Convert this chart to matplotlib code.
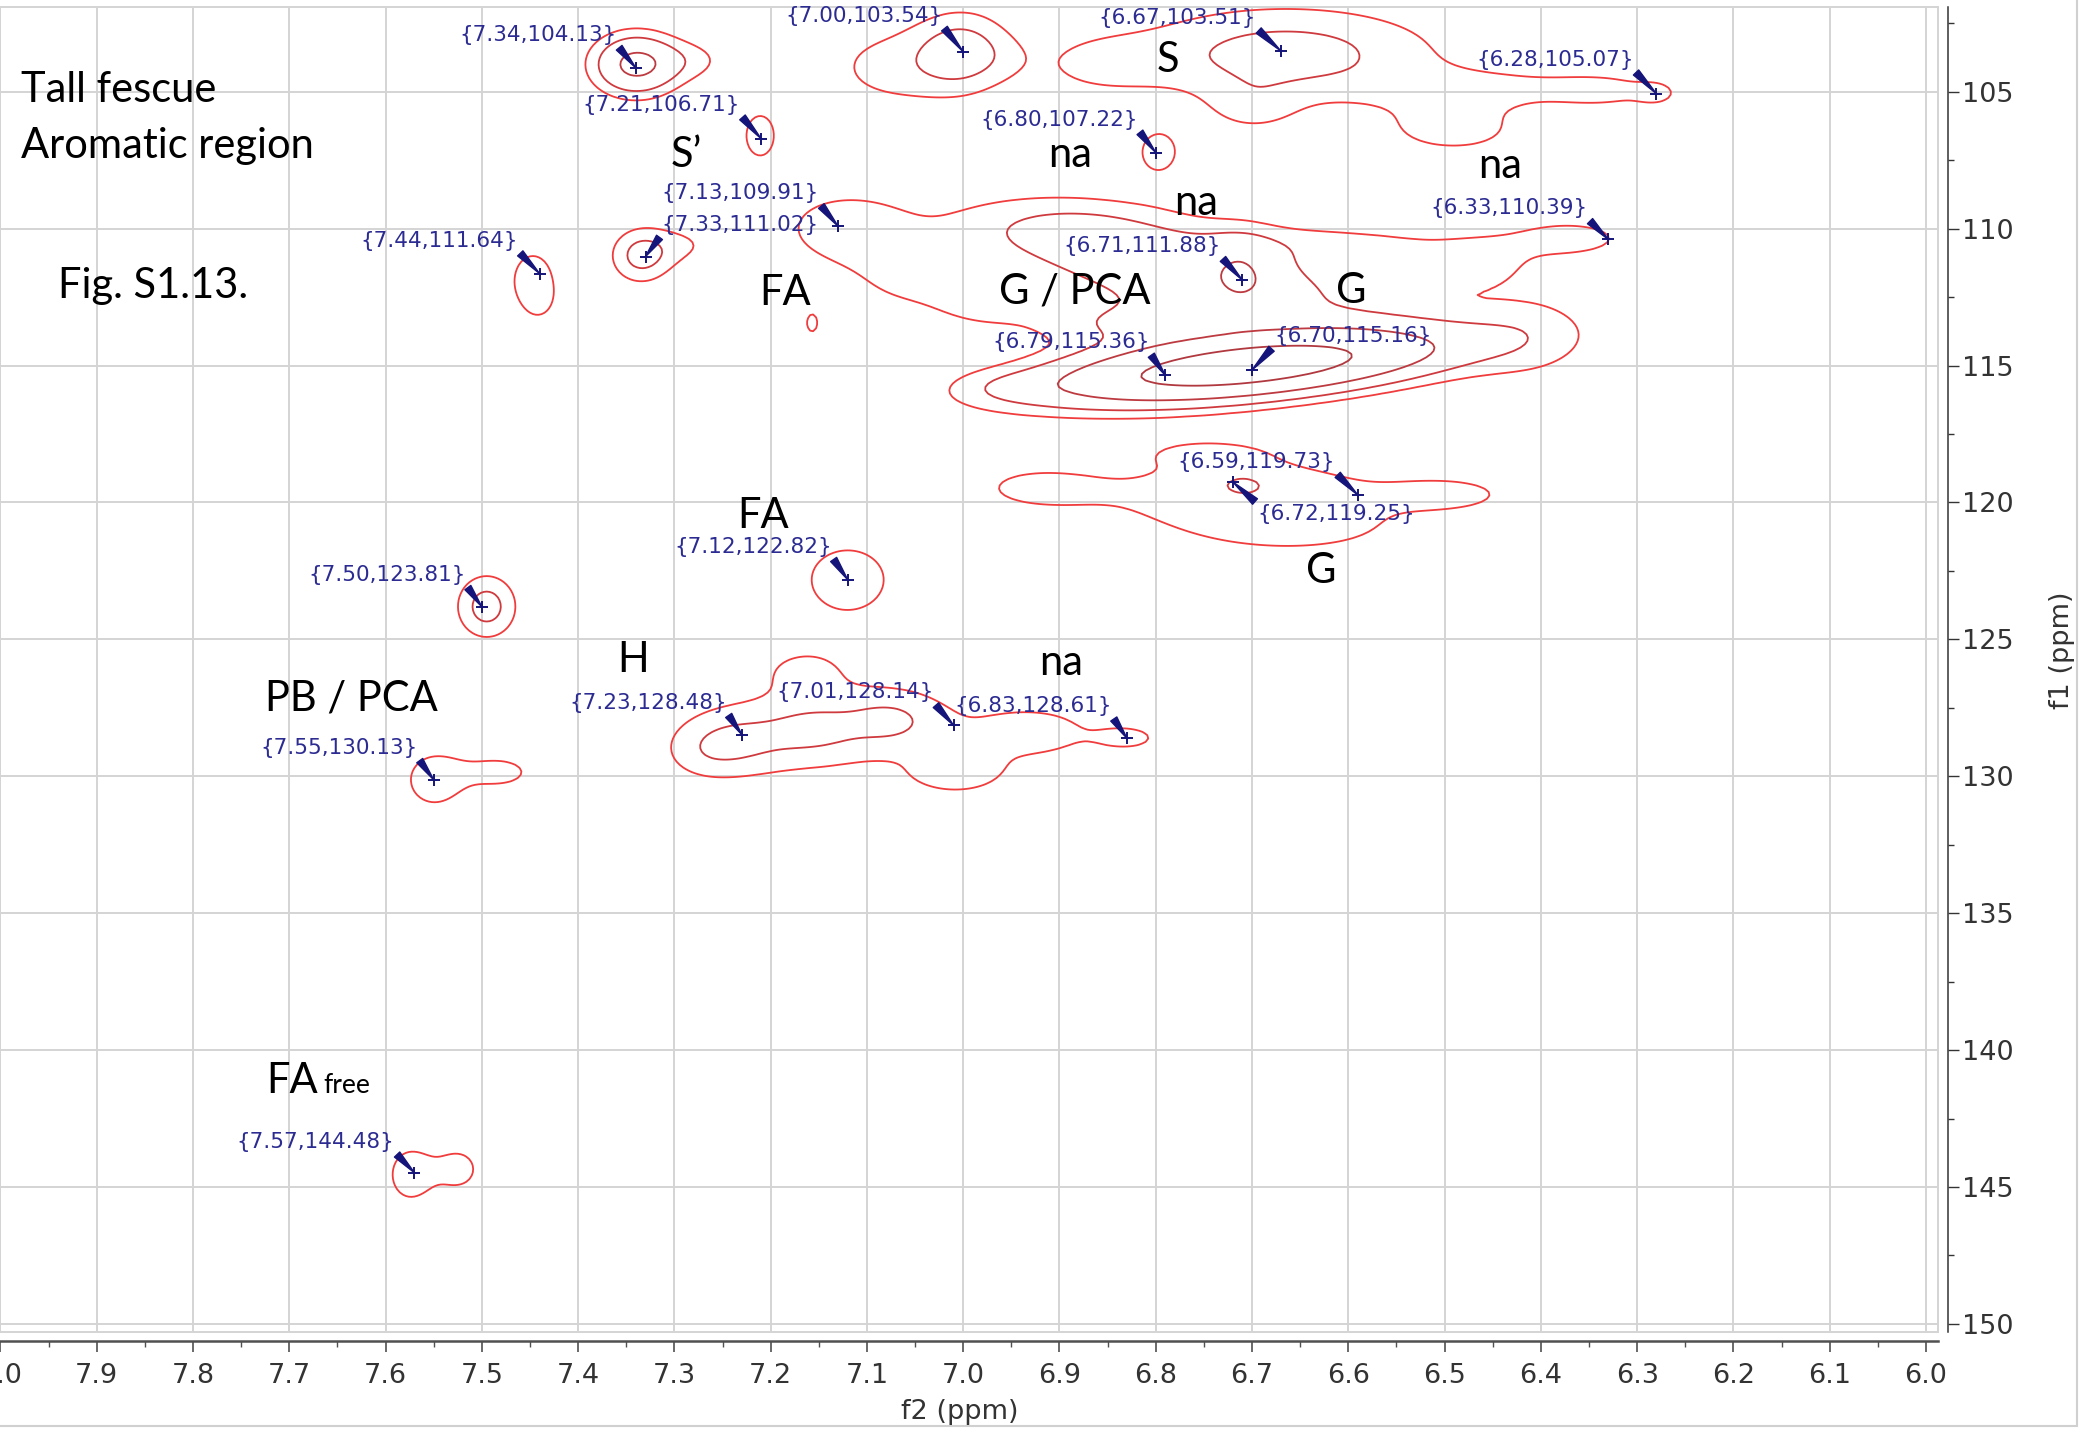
import numpy as np
import matplotlib
matplotlib.use("Agg")
import matplotlib.pyplot as plt
from matplotlib.patches import Rectangle

# ---------------- data ----------------
# picked peaks (f2 ppm, f1 ppm) as labelled in the spectrum
peak_f2 = [7.34, 7.00, 6.67, 6.28, 7.21, 6.80, 7.13, 7.33, 7.44, 6.33, 6.71,
           6.79, 6.70, 6.59, 6.72, 7.12, 7.50, 7.23, 7.01, 6.83, 7.55, 7.57]
peak_f1 = [104.13, 103.54, 103.51, 105.07, 106.71, 107.22, 109.91, 111.02,
           111.64, 110.39, 111.88, 115.36, 115.16, 119.73, 119.25, 122.82,
           123.81, 128.48, 128.14, 128.61, 130.13, 144.48]

# cross-peak components estimated from the contour outlines:
# (f2 centre, f1 centre, f2 width, f1 width, amplitude, tilt)
comp_f2 = [
    7.340, 7.280,                                          # 7.34/104
    7.000, 7.070, 6.955,                                   # 7.00/103.5
    6.665, 6.860, 6.420, 6.330, 6.280, 6.490, 6.700,       # S region
    7.211, 6.797, 7.447, 7.440, 7.335, 7.290, 7.157,       # small peaks
    7.575, 7.525,                                          # FA free
    7.495, 7.120, 7.550, 7.485,                            # 123.8, 122.8, 130.1
    7.235, 7.155, 7.075, 7.165, 7.270, 6.920, 6.825, 7.005, 7.130,  # H region
    6.700, 6.710, 6.930, 6.490, 6.650, 6.750,              # G 119
    6.710, 6.770, 6.710, 7.125, 6.890, 6.600, 6.370, 7.060, 6.410, 6.460,
    6.980, 6.960, 6.840, 6.520,                            # G/PCA cluster
]
comp_f1 = [
    104.00, 103.85,
    103.50, 104.10, 103.80,
    103.60, 104.00, 104.80, 105.00, 105.07, 106.40, 105.60,
    106.60, 107.20, 111.90, 112.60, 111.00, 110.60, 113.45,
    144.55, 144.35,
    123.80, 122.80, 130.15, 129.85,
    128.70, 128.30, 127.95, 126.10, 129.20, 128.40, 128.60, 129.90, 128.30,
    119.80, 119.30, 119.45, 119.70, 121.10, 118.10,
    115.05, 111.60, 111.65, 110.00, 109.90, 110.50, 110.35, 111.90, 113.80, 111.20,
    112.80, 115.80, 113.50, 111.60,
]
comp_w2 = [
    0.030, 0.028,
    0.034, 0.055, 0.020,
    0.110, 0.050, 0.100, 0.040, 0.015, 0.070, 0.035,
    0.0155, 0.018, 0.021, 0.010, 0.022, 0.030, 0.006,
    0.018, 0.022,
    0.022, 0.038, 0.022, 0.035,
    0.040, 0.035, 0.035, 0.035, 0.030, 0.060, 0.025, 0.035, 0.120,
    0.120, 0.020, 0.060, 0.050, 0.080, 0.060,
    0.131, 0.150, 0.025, 0.050, 0.070, 0.100, 0.050, 0.050, 0.050, 0.035,
    0.040, 0.040, 0.070, 0.050,
]
comp_w1 = [
    0.75, 0.55,
    1.00, 1.10, 0.60,
    1.20, 0.80, 0.60, 0.45, 0.30, 0.90, 0.70,
    0.78, 0.67, 1.00, 0.45, 0.70, 0.60, 0.35,
    0.80, 0.75,
    0.82, 1.08, 0.75, 0.55,
    0.80, 0.70, 0.70, 0.70, 0.70, 0.90, 0.35, 0.55, 1.90,
    1.15, 0.30, 0.75, 0.50, 0.70, 0.45,
    0.745, 1.30, 1.00, 1.00, 0.70, 0.50, 0.55, 1.00, 1.30, 0.60,
    0.70, 0.45, 0.60, 0.70,
]
comp_amp = [
    4.6, 1.0,
    2.3, 1.35, 0.25,
    2.5, 1.0, 0.9, 0.8, 0.9, 1.2, 1.0,
    1.5, 1.5, 1.5, 0.7, 2.3, 0.95, 1.4,
    1.6, 1.3,
    2.5, 1.6, 1.7, 1.3,
    1.5, 1.3, 1.4, 0.8, 0.7, 1.1, 1.0, 1.2, 0.95,
    1.6, 0.7, 1.0, 1.05, 0.7, 0.75,
    11.0, 3.0, 1.6, 1.4, 1.0, 0.9, 1.35, 1.0, 1.0, 1.0,
    0.9, 0.7, 1.5, 0.7,
]
comp_tilt = [0.0] * 40 + [3.2, -6.0] + [0.0] * 12

contour_levels = [1, 2, 4, 8]

assign_text = ["Tall fescue", "Aromatic region", "Fig. S1.13.", "S\u2019", "FA", "S",
               "na", "na", "na", "G / PCA", "G", "FA", "G", "H", "na", "PB / PCA", "FA"]
assign_f2 = [7.979, 7.979, 7.940, 7.304, 7.212, 6.799, 6.912, 6.781, 6.465, 6.963,
             6.613, 7.235, 6.644, 7.359, 6.921, 7.725, 7.724]
assign_f1 = [105.37, 107.42, 112.53, 107.75, 112.79, 104.28, 107.74, 109.50, 108.16,
             112.72, 112.72, 120.93, 122.95, 126.19, 126.30, 127.58, 141.58]

# label offsets in pixels (dx, dy, ha, va) -- layout only
label_layout = [(-19, 23, "right", "bottom"), (-21, 26, "right", "bottom"),
                (-25, 23, "right", "bottom"), (-23, 24, "right", "bottom"),
                (-21, 24, "right", "bottom"), (-18, 23, "right", "bottom"),
                (-19, 23, "right", "bottom"), (16, 22, "left", "bottom"),
                (-22, 23, "right", "bottom"), (-21, 21, "right", "bottom"),
                (-22, 24, "right", "bottom"), (-16, 23, "right", "bottom"),
                (22, 24, "left", "bottom"), (-23, 23, "right", "bottom"),
                (25, -22, "left", "top"), (-16, 23, "right", "bottom"),
                (-16, 22, "right", "bottom"), (-15, 22, "right", "bottom"),
                (-20, 23, "right", "bottom"), (-15, 22, "right", "bottom"),
                (-16, 22, "right", "bottom"), (-20, 21, "right", "bottom")]

# ---------------- figure ----------------
W, H = 2086, 1432
fig = plt.figure(figsize=(W / 100, H / 100), dpi=100)
fig.patch.set_facecolor("white")

XL = (8.0005, 5.9875)
YL = (150.296, 101.903)
ax_l, ax_r, ax_t, ax_b = 0, 1938, 7, 1332
ax = fig.add_axes([ax_l / W, 1 - ax_b / H, (ax_r - ax_l) / W, (ax_b - ax_t) / H])
ax.set_xlim(*XL)
ax.set_ylim(*YL)
ax.set_xticks(np.round(np.arange(6.0, 8.0001, 0.1), 1))
ax.set_yticks(np.arange(105, 151, 5))
ax.tick_params(length=0, labelbottom=False, labelleft=False)
ax.grid(True, color="#d4d4d4", lw=1.4)
ax.set_axisbelow(True)
for sp in ax.spines.values():
    sp.set_color("#d4d4d4")
    sp.set_linewidth(1.4)

# contour field
gx = np.arange(5.98, 8.01, 0.003)
gy = np.arange(101.5, 150.6, 0.12)
X, Y = np.meshgrid(gx, gy)
Z = np.zeros_like(X)
for x0, y0, sx, sy, a, k in zip(comp_f2, comp_f1, comp_w2, comp_w1, comp_amp, comp_tilt):
    dx = X - x0
    dy = Y - y0 - k * dx
    Z += a * np.exp(-0.5 * (dx / sx) ** 2 - 0.5 * (dy / sy) ** 2)
ax.contour(X, Y, Z, levels=contour_levels,
           colors=["#f03c3c", "#cf3a3e", "#bd3a40", "#b0383e"], linewidths=1.3)

navy = "#14147a"
labc = "#2b2b92"
for (x, y), (dx, dy, ha, va) in zip(zip(peak_f2, peak_f1), label_layout):
    relpos = (0 if ha == "left" else 1, 1 if va == "top" else 0)
    ax.annotate("{%.2f,%.2f}" % (x, y), xy=(x, y), xytext=(dx, dy),
                textcoords="offset pixels", ha=ha, va=va, fontsize=15.5,
                color=labc, family="DejaVu Sans",
                arrowprops=dict(arrowstyle="wedge,tail_width=0.34,shrink_factor=0.5",
                                color=navy, shrinkA=0, shrinkB=0, relpos=relpos))
    ax.plot(x, y, marker="+", color=navy, ms=8, mew=1.4)

for s, x, y in zip(assign_text, assign_f2, assign_f1):
    ax.text(x, y, s, family="Lato", fontsize=30, ha="left", va="baseline", color="black")
ax.text(7.665, 141.58, "free", family="Lato", fontsize=19, ha="left", va="baseline")

# detached x axis
axx = fig.add_axes([ax_l / W, 1 - 1341 / H, (ax_r - ax_l) / W, 1e-5])
axx.set_xlim(*XL)
axx.patch.set_visible(False)
for n in ("top", "left", "right"):
    axx.spines[n].set_visible(False)
axx.spines["bottom"].set_color("#505050")
axx.spines["bottom"].set_linewidth(1.8)
axx.set_yticks([])
axx.set_xticks(np.round(np.arange(6.0, 8.0001, 0.1), 1))
axx.set_xticks(np.round(np.arange(6.05, 8.0, 0.1), 2), minor=True)
axx.xaxis.set_major_formatter(matplotlib.ticker.FormatStrFormatter("%.1f"))
axx.tick_params(axis="x", which="major", length=8, width=1.2, color="#505050",
                labelsize=19.5, labelcolor="#333333", pad=8)
axx.tick_params(axis="x", which="minor", length=4.3, width=1.0, color="#505050")

# detached y axis on the right
axy = fig.add_axes([1948 / W, 1 - ax_b / H, 1e-5, (ax_b - ax_t) / H])
axy.set_ylim(*YL)
axy.patch.set_visible(False)
for n in ("top", "left", "bottom"):
    axy.spines[n].set_visible(False)
axy.spines["right"].set_color("#333333")
axy.spines["right"].set_linewidth(1.1)
axy.set_xticks([])
axy.yaxis.tick_right()
axy.set_yticks(np.arange(105, 151, 5))
axy.set_yticks(np.arange(102.5, 150, 5), minor=True)
axy.tick_params(axis="y", which="major", length=8, width=1.0, color="#333333",
                labelsize=19.5, labelcolor="#333333", pad=2)
axy.tick_params(axis="y", which="minor", length=4, width=1.0, color="#333333")

fig.text(960 / W, 1 - 1412 / H, "f2 (ppm)", ha="center", va="center",
         fontsize=19.5, color="#333333")
fig.text(2062 / W, 1 - 650 / H, "f1 (ppm)", ha="center", va="center",
         rotation=90, fontsize=19.5, color="#333333")

fig.patches.append(Rectangle((-0.01, 1 - 1426 / H), 2077 / W + 0.01, 1426 / H + 0.02,
                             transform=fig.transFigure, fill=False,
                             ec="#d0d0d0", lw=1.5))

fig.savefig("out.png", dpi=100)
